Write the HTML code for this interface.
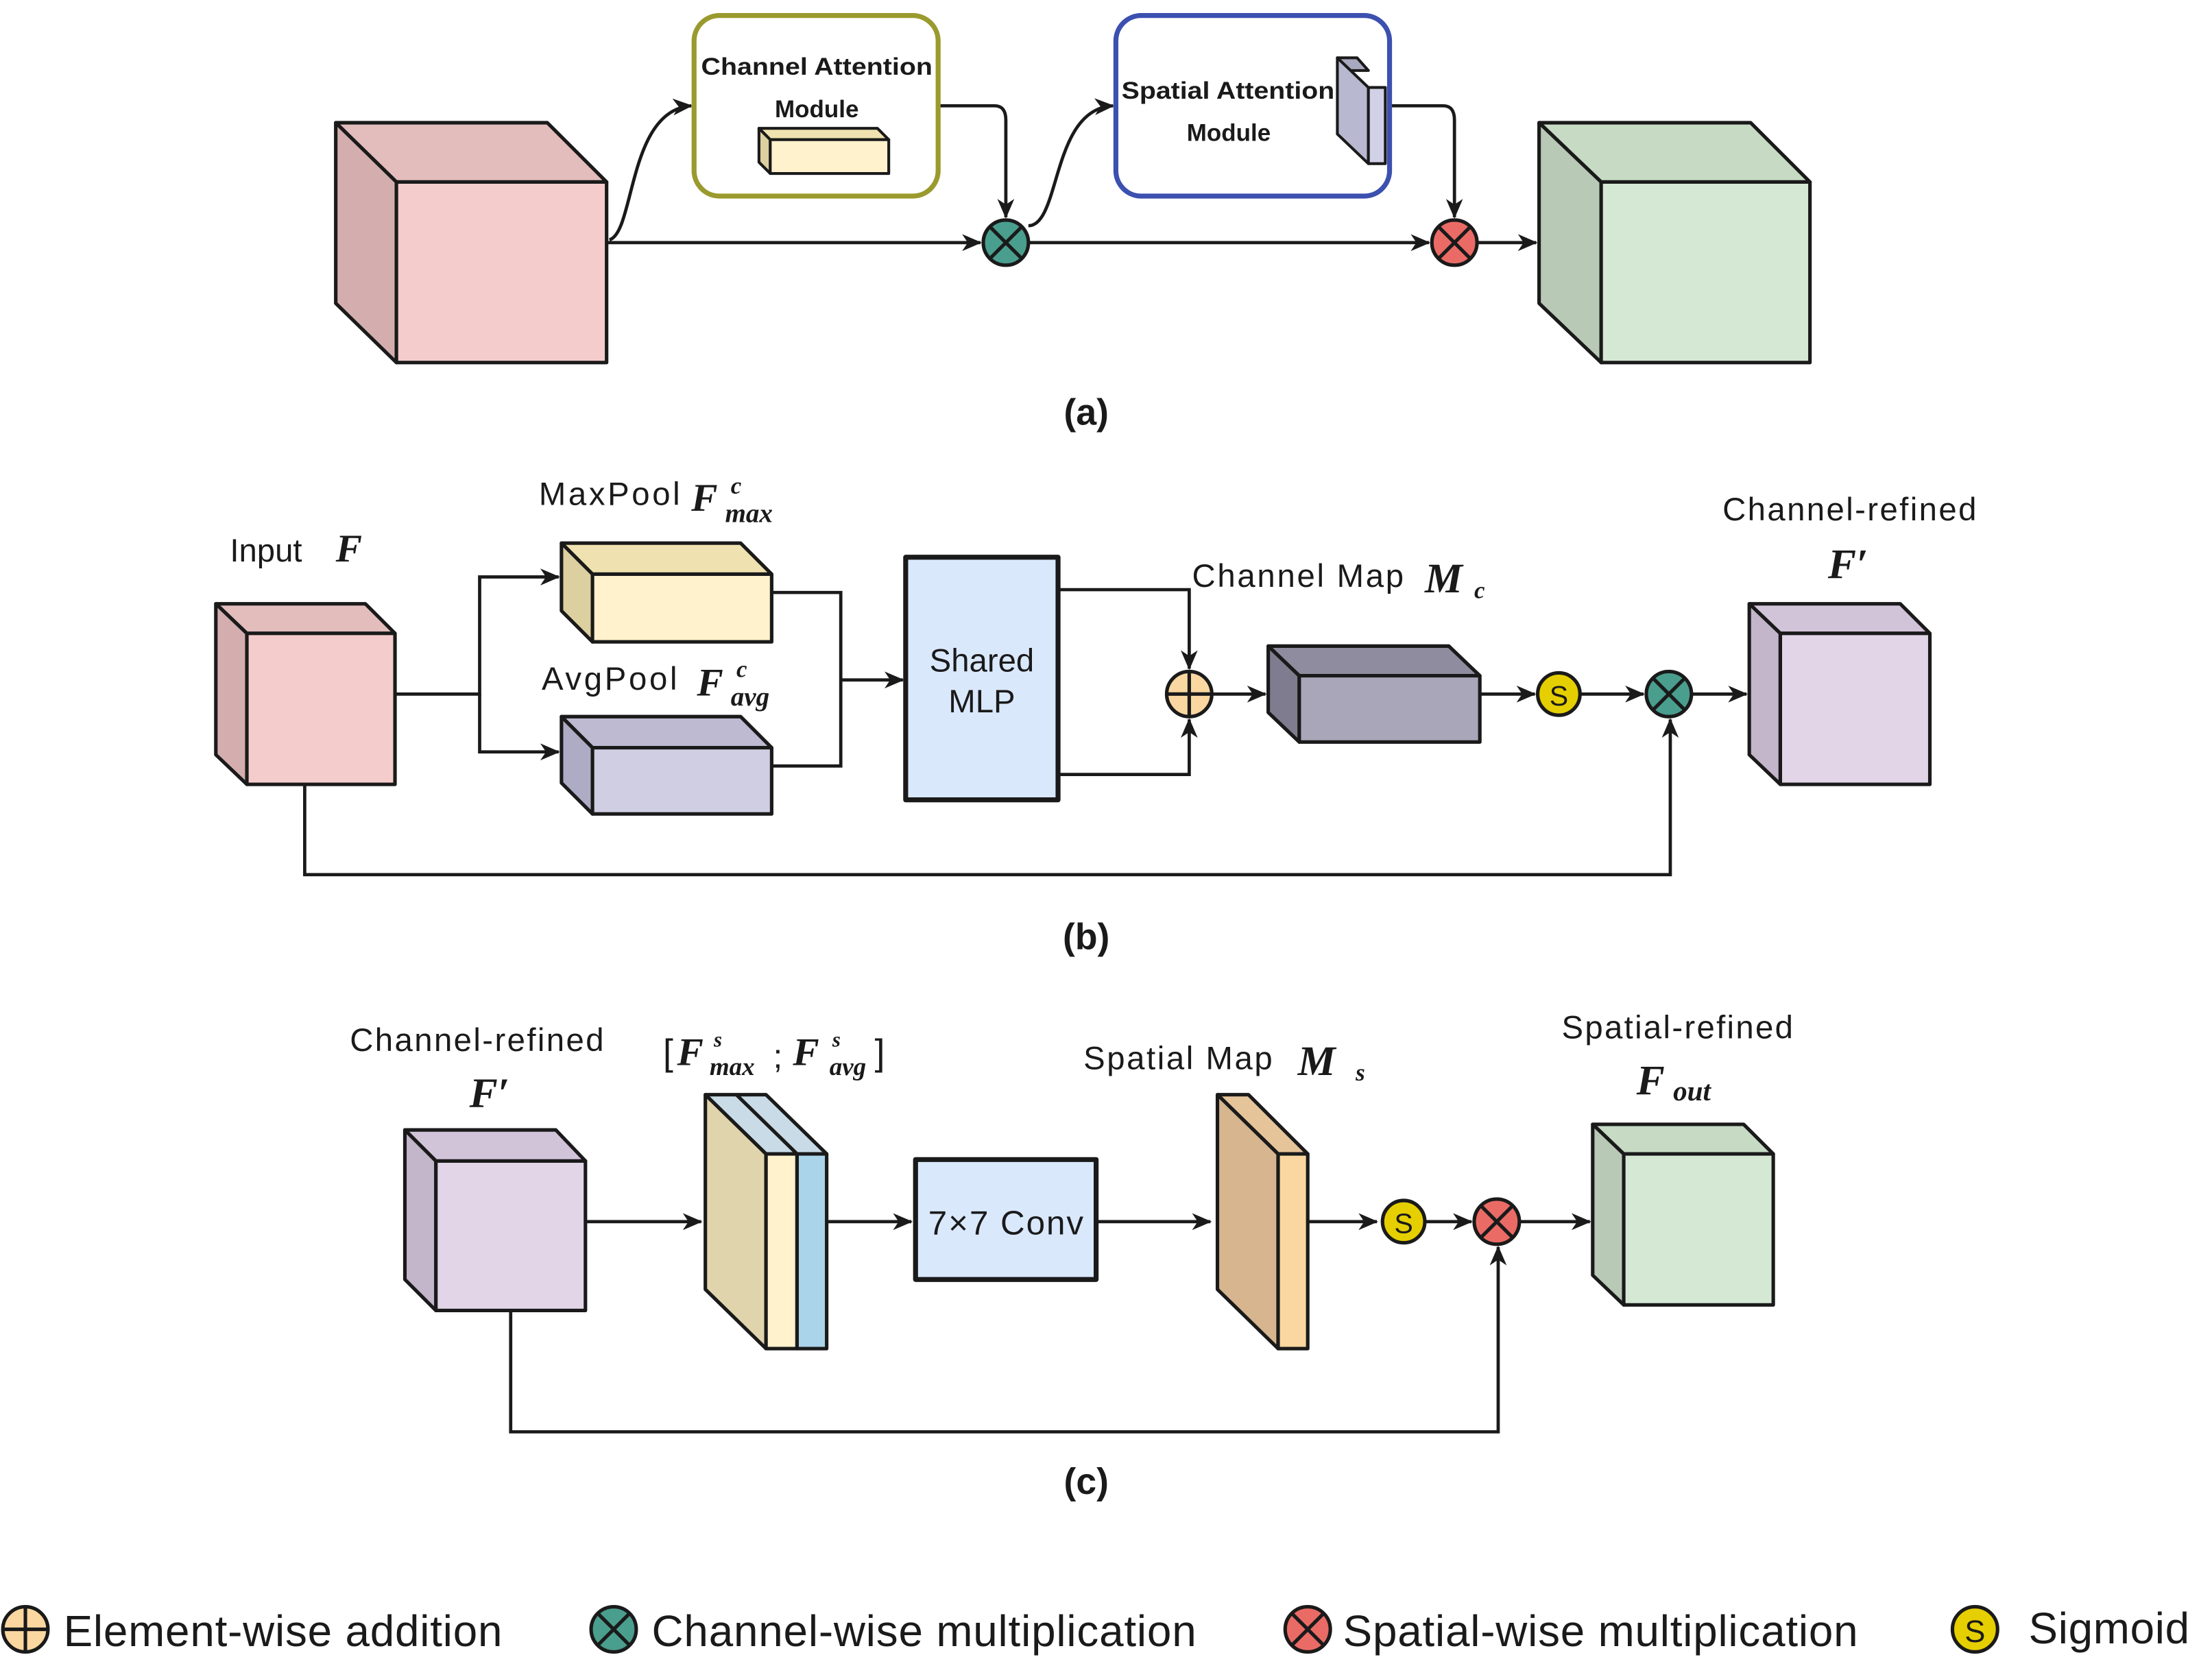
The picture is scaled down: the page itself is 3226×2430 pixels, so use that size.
<!DOCTYPE html>
<html><head><meta charset="utf-8"><style>
html,body{margin:0;padding:0;background:#fff;}
svg{display:block;}
text{font-family:"Liberation Sans",sans-serif;fill:#1a1a1a;}
.m{font-family:"Liberation Serif",serif;font-style:italic;font-weight:bold;}
</style></head><body>
<svg width="3226" height="2430" viewBox="0 0 1568 1181" preserveAspectRatio="none" xmlns="http://www.w3.org/2000/svg">
<defs>
<marker id="ar" markerWidth="14" markerHeight="12" refX="13" refY="6" orient="auto" markerUnits="userSpaceOnUse">
<path d="M0,0 L14,6 L0,12 L4,6 z" fill="#1a1a1a"/></marker>
</defs>
<g stroke="#1a1a1a" stroke-width="2.3" fill="none">
<path d="M432,170 C450,165 445,78 490,75" marker-end="url(#ar)"/>
<path d="M665,75 H705 Q713,75 713,85 V154" marker-end="url(#ar)"/>
<path d="M729,160 C752,160 745,77 789,75" marker-end="url(#ar)"/>
<path d="M985,75 H1023 Q1031,75 1031,85 V154" marker-end="url(#ar)"/>
<path d="M430,172 H695" marker-end="url(#ar)"/>
<path d="M729,172 H1013" marker-end="url(#ar)"/>
<path d="M1047,172 H1089" marker-end="url(#ar)"/>
<path d="M280,492 H340 V409 H396" marker-end="url(#ar)"/>
<path d="M340,492 V533 H396" marker-end="url(#ar)"/>
<path d="M547,420 H596 V543 H547"/>
<path d="M596,482 H640" marker-end="url(#ar)"/>
<path d="M750,418 H843 V474" marker-end="url(#ar)"/>
<path d="M750,549 H843 V510" marker-end="url(#ar)"/>
<path d="M859,492 H897" marker-end="url(#ar)"/>
<path d="M1049,492 H1088" marker-end="url(#ar)"/>
<path d="M1121,492 H1165" marker-end="url(#ar)"/>
<path d="M1199,492 H1238" marker-end="url(#ar)"/>
<path d="M216,556 V620 H1184 V510" marker-end="url(#ar)"/>
<path d="M415,866 H497" marker-end="url(#ar)"/>
<path d="M586,866 H646" marker-end="url(#ar)"/>
<path d="M777,866 H858" marker-end="url(#ar)"/>
<path d="M927,866 H976" marker-end="url(#ar)"/>
<path d="M1011,866 H1043" marker-end="url(#ar)"/>
<path d="M1077,866 H1127" marker-end="url(#ar)"/>
<path d="M362,929 V1015 H1062 V884" marker-end="url(#ar)"/>
</g>
<g stroke="#1a1a1a" stroke-width="2.5" stroke-linejoin="round">
<polygon points="238,87 388,87 430,129 281,129" fill="#e3bcbc"/>
<polygon points="238,87 281,129 281,257 238,215" fill="#d4aeae"/>
<rect x="281" y="129" width="149" height="128" fill="#f5cccc"/>
<polygon points="1091,87 1241,87 1283,129 1135,129" fill="#c6dac4"/>
<polygon points="1091,87 1135,129 1135,257 1091,215" fill="#b8c9b6"/>
<rect x="1135" y="129" width="148" height="128" fill="#d5e8d4"/>
<rect x="492" y="11" width="173" height="128" rx="18" fill="#fff" stroke="#9a9a2e" stroke-width="3.5"/>
<rect x="791" y="11" width="194" height="128" rx="18" fill="#fff" stroke="#3c50b0" stroke-width="3.5"/>
<polygon points="538,91 622,91 630,99 546,99" fill="#efe2b0" stroke-width="2"/>
<polygon points="538,91 546,99 546,123 538,115" fill="#ddd0a0" stroke-width="2"/>
<rect x="546" y="99" width="84" height="24" fill="#fff2cc" stroke-width="2"/>
<polygon points="948,41 962,41 970,50 956,50" fill="#a8a8c0" stroke-width="2"/>
<polygon points="948,41 970,62 970,116 948,95" fill="#b8b8d0" stroke-width="2"/>
<rect x="970" y="62" width="12" height="54" fill="#d0d0e6" stroke-width="2"/>
<polygon points="153,428 259,428 280,449 175,449" fill="#e3bcbc"/>
<polygon points="153,428 175,449 175,556 153,535" fill="#d4aeae"/>
<rect x="175" y="449" width="105" height="107" fill="#f5cccc"/>
<polygon points="398,385 525,385 547,407 420,407" fill="#efe2b0"/>
<polygon points="398,385 420,407 420,455 398,433" fill="#ddd0a0"/>
<rect x="420" y="407" width="127" height="48" fill="#fff2cc"/>
<polygon points="398,508 525,508 547,530 420,530" fill="#bdbad2"/>
<polygon points="398,508 420,530 420,577 398,555" fill="#aeabc4"/>
<rect x="420" y="530" width="127" height="47" fill="#d0cee2"/>
<rect x="642" y="395" width="108" height="172" fill="#dae8fc" stroke-width="3.5"/>
<polygon points="899,458 1027,458 1049,479 921,479" fill="#8e8c9e"/>
<polygon points="899,458 921,479 921,526 899,505" fill="#7e7c8e"/>
<rect x="921" y="479" width="128" height="47" fill="#a8a6b8"/>
<polygon points="1240,428 1347,428 1368,449 1262,449" fill="#d2c4d8"/>
<polygon points="1240,428 1262,449 1262,556 1240,535" fill="#c3b5ca"/>
<rect x="1262" y="449" width="106" height="107" fill="#e1d5e7"/>
<polygon points="287,801 394,801 415,823 309,823" fill="#d2c4d8"/>
<polygon points="287,801 309,823 309,929 287,907" fill="#c3b5ca"/>
<rect x="309" y="823" width="106" height="106" fill="#e1d5e7"/>
<polygon points="500,776 543,776 586,818 543,818" fill="#c8dbe6"/>
<polygon points="500,776 543,818 543,956 500,914" fill="#e0d4ac"/>
<rect x="543" y="818" width="22" height="138" fill="#fff2cc"/>
<rect x="565" y="818" width="21" height="138" fill="#a9d4ea"/>
<line x1="522" y1="776" x2="565" y2="818"/>
<rect x="649" y="822" width="128" height="85" fill="#dae8fc" stroke-width="3.5"/>
<polygon points="863,776 885,776 927,818 906,818" fill="#e6c49a"/>
<polygon points="863,776 906,818 906,956 863,914" fill="#d6b58f"/>
<rect x="906" y="818" width="21" height="138" fill="#fad7a0"/>
<polygon points="1129,797 1236,797 1257,818 1151,818" fill="#c6dac4"/>
<polygon points="1129,797 1151,818 1151,925 1129,904" fill="#b8c9b6"/>
<rect x="1151" y="818" width="106" height="107" fill="#d5e8d4"/>
</g>
<g stroke="#1a1a1a" stroke-width="2.5">
<g><circle cx="713" cy="172" r="16" fill="#4a9e8e"/><path d="M702,161 L724,183 M724,161 L702,183"/></g>
<g><circle cx="1031" cy="172" r="16" fill="#ea6b66"/><path d="M1020,161 L1042,183 M1042,161 L1020,183"/></g>
<g><circle cx="843" cy="492" r="16" fill="#fad7a0"/><path d="M827,492 H859 M843,476 V508"/></g>
<g><circle cx="1183" cy="492" r="16" fill="#4a9e8e"/><path d="M1172,481 L1194,503 M1194,481 L1172,503"/></g>
<g><circle cx="1061" cy="866" r="16" fill="#ea6b66"/><path d="M1050,855 L1072,877 M1072,855 L1050,877"/></g>
<circle cx="1105" cy="492" r="15" fill="#e6cf00"/>
<circle cx="995" cy="866" r="15" fill="#e6cf00"/>
<g><circle cx="18" cy="1155" r="16" fill="#fad7a0"/><path d="M2,1155 H34 M18,1139 V1171"/></g>
<g><circle cx="435" cy="1155" r="16" fill="#4a9e8e"/><path d="M424,1144 L446,1166 M446,1144 L424,1166"/></g>
<g><circle cx="927" cy="1155" r="16" fill="#ea6b66"/><path d="M916,1144 L938,1166 M938,1144 L916,1166"/></g>
<circle cx="1400" cy="1155" r="16" fill="#e6cf00"/>
</g>
<text x="1105" y="500" font-size="20" text-anchor="middle">S</text>
<text x="995" y="874" font-size="20" text-anchor="middle">S</text>
<text x="1400" y="1164" font-size="22" text-anchor="middle">S</text>
<text x="497" y="53" font-size="17" font-weight="bold" textLength="164" lengthAdjust="spacingAndGlyphs">Channel Attention</text>
<text x="579" y="83" font-size="17" font-weight="bold" text-anchor="middle">Module</text>
<text x="795" y="70" font-size="17" font-weight="bold" textLength="151" lengthAdjust="spacingAndGlyphs">Spatial Attention</text>
<text x="871" y="100" font-size="17" font-weight="bold" text-anchor="middle">Module</text>
<text x="770" y="301" font-size="26" font-weight="bold" text-anchor="middle">(a)</text>
<text x="163" y="398" font-size="23">Input</text><text class="m" x="238" y="398" font-size="28">F</text>
<text x="382" y="358" font-size="23" textLength="100">MaxPool</text><text class="m" x="490" y="362" font-size="28">F</text><text class="m" x="518" y="350" font-size="17">c</text><text class="m" x="514" y="370" font-size="19">max</text>
<text x="384" y="489" font-size="23" textLength="96">AvgPool</text><text class="m" x="494" y="493" font-size="28">F</text><text class="m" x="522" y="480" font-size="17">c</text><text class="m" x="518" y="500" font-size="19">avg</text>
<text x="696" y="476" font-size="23" text-anchor="middle">Shared</text>
<text x="696" y="505" font-size="23" text-anchor="middle">MLP</text>
<text x="845" y="416" font-size="23" textLength="150">Channel Map</text><text class="m" x="1010" y="420" font-size="30">M</text><text class="m" x="1045" y="424" font-size="17">c</text>
<text x="1221" y="369" font-size="23" textLength="180">Channel-refined</text>
<text class="m" x="1310" y="410" font-size="30" text-anchor="middle">F′</text>
<text x="770" y="673" font-size="26" font-weight="bold" text-anchor="middle">(b)</text>
<text x="248" y="745" font-size="23" textLength="180">Channel-refined</text>
<text class="m" x="347" y="785" font-size="30" text-anchor="middle">F′</text>
<text x="470" y="755" font-size="26" font-family="Liberation Serif">[</text>
<text class="m" x="480" y="755" font-size="28">F</text><text class="m" x="506" y="742" font-size="15">s</text><text class="m" x="503" y="762" font-size="18">max</text>
<text x="548" y="757" font-size="24" font-family="Liberation Serif">;</text>
<text class="m" x="562" y="755" font-size="28">F</text><text class="m" x="590" y="742" font-size="15">s</text><text class="m" x="588" y="762" font-size="18">avg</text>
<text x="620" y="755" font-size="26" font-family="Liberation Serif">]</text>
<text x="658" y="875" font-size="24" textLength="110">7×7 Conv</text>
<text x="768" y="758" font-size="23" textLength="134">Spatial Map</text><text class="m" x="920" y="762" font-size="30">M</text><text class="m" x="961" y="766" font-size="17">s</text>
<text x="1107" y="736" font-size="23" textLength="164">Spatial-refined</text>
<text class="m" x="1160" y="776" font-size="30">F</text><text class="m" x="1186" y="780" font-size="20">out</text>
<text x="770" y="1059" font-size="26" font-weight="bold" text-anchor="middle">(c)</text>
<text x="45" y="1167" font-size="31" textLength="311">Element-wise addition</text>
<text x="462" y="1167" font-size="31" textLength="386">Channel-wise multiplication</text>
<text x="952" y="1167" font-size="31" textLength="365">Spatial-wise multiplication</text>
<text x="1438" y="1165" font-size="31" textLength="114">Sigmoid</text>
</svg>
</body></html>
